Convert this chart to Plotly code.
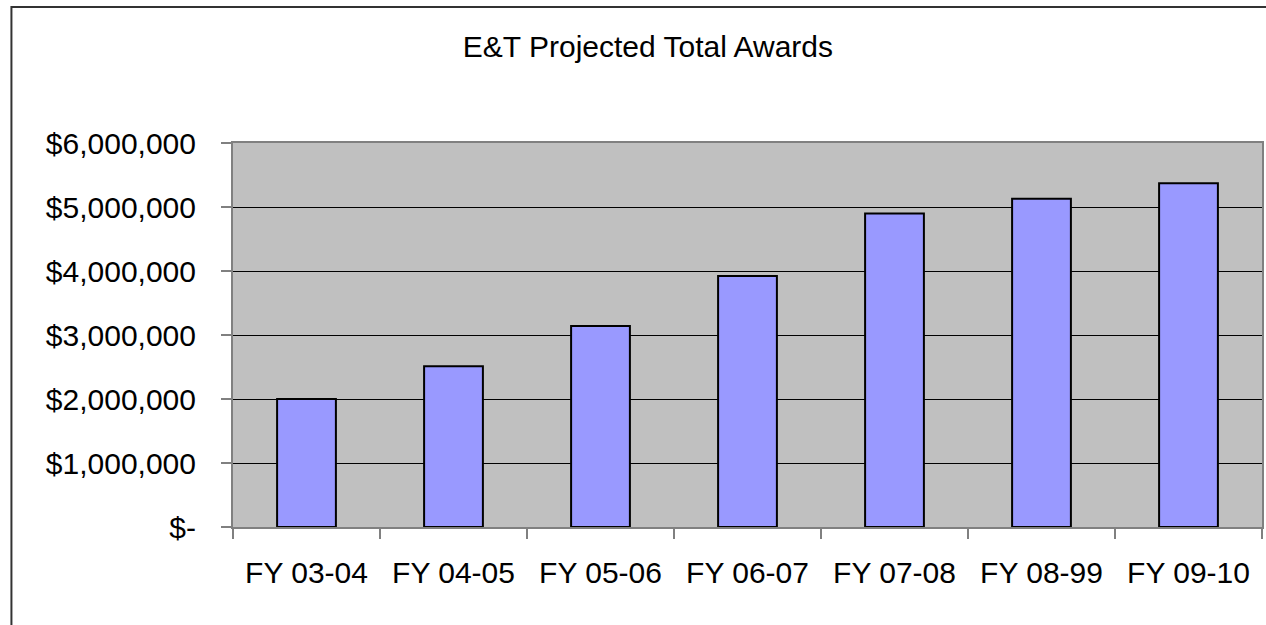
import plotly.graph_objects as go

categories = ["FY 03-04", "FY 04-05", "FY 05-06", "FY 06-07", "FY 07-08", "FY 08-99", "FY 09-10"]
awards = [2000000, 2510000, 3140000, 3920000, 4900000, 5130000, 5370000]
y_tick_vals = [0, 1000000, 2000000, 3000000, 4000000, 5000000, 6000000]
y_tick_text = ["$-", "$1,000,000", "$2,000,000", "$3,000,000", "$4,000,000", "$5,000,000", "$6,000,000"]

FONT = "Liberation Sans, Arial, sans-serif"

fig = go.Figure(go.Bar(
    x=categories, y=awards,
    marker=dict(color="#9999FF", line=dict(color="#000000", width=2)),
    hoverinfo="skip",
))

fig.update_layout(
    width=1266, height=625,
    margin=dict(l=233, r=2, t=143, b=98),
    paper_bgcolor="white",
    plot_bgcolor="#C0C0C0",
    bargap=0.6,
    showlegend=False,
    title=dict(text="E&T Projected Total Awards", x=0.5118, xref="container", xanchor="center",
               y=0.926, yref="container", yanchor="middle",
               font=dict(family=FONT, size=30, color="black")),
    font=dict(family=FONT, color="black"),
)

fig.update_xaxes(
    type="category",
    tickson="boundaries", ticks="outside", ticklen=10, tickcolor="#808080", tickwidth=1.5,
    ticklabelstandoff=18,
    showline=True, linecolor="#808080", linewidth=2, mirror=True,
    showgrid=False,
    tickfont=dict(family=FONT, size=30, color="black"),
)
fig.update_yaxes(
    range=[0, 6000000],
    tickvals=y_tick_vals, ticktext=y_tick_text,
    ticks="outside", ticklen=10, tickcolor="#808080", tickwidth=1.5,
    ticklabelstandoff=19,
    showline=True, linecolor="#808080", linewidth=2, mirror=True,
    showgrid=True, gridcolor="#000000", gridwidth=1,
    zeroline=False,
    tickfont=dict(family=FONT, size=30, color="black"),
)

fig.add_shape(type="rect", xref="paper", yref="paper",
              x0=(11 - 233) / 1031, x1=1.05, y0=-0.6, y1=(527 - 7) / 384,
              line=dict(color="#333333", width=2), fillcolor="rgba(0,0,0,0)", layer="below")

fig.write_html("out.html", config={"displayModeBar": False},
               post_script="document.body.style.margin='0';document.body.style.overflow='hidden';")
